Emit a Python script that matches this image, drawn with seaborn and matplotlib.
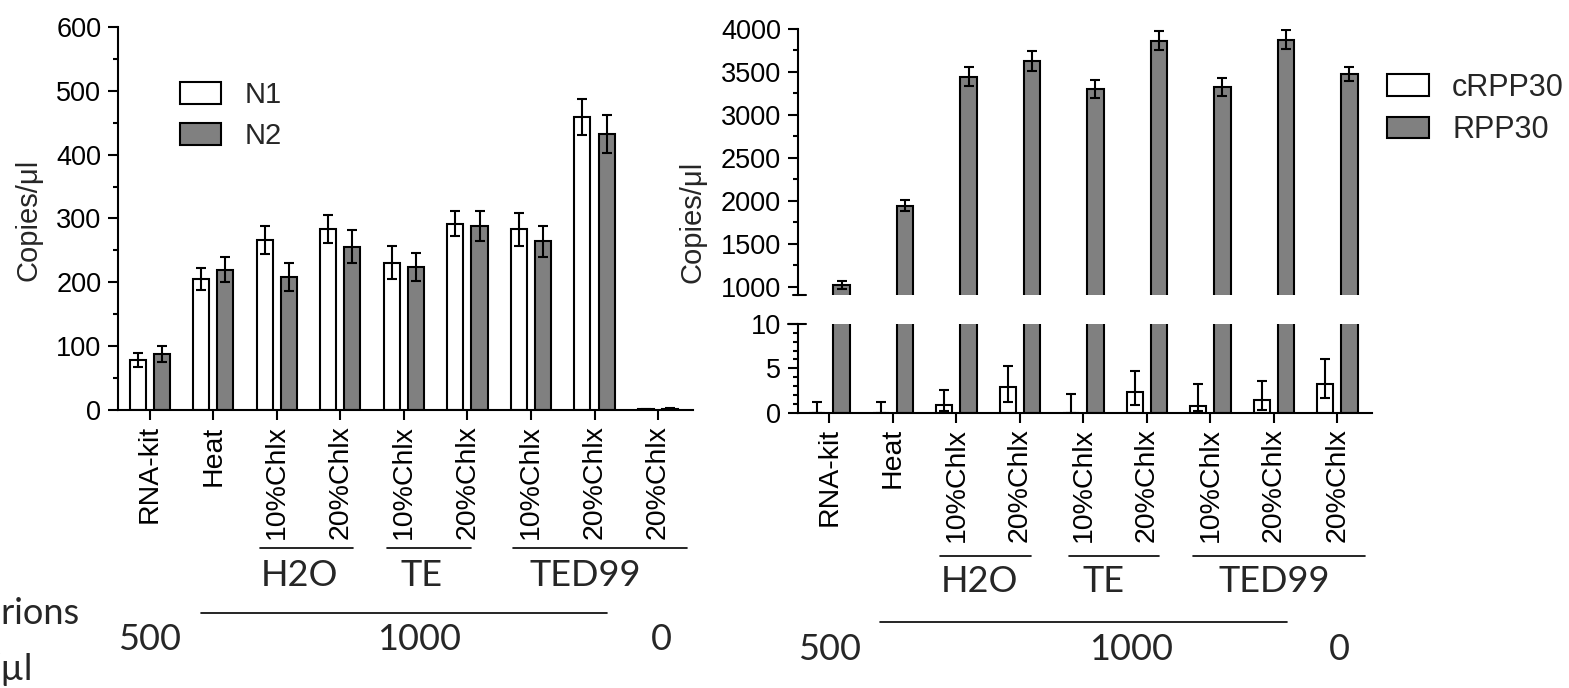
import numpy as np
import pandas as pd
import matplotlib
matplotlib.use("Agg")
import matplotlib.pyplot as plt
import matplotlib.transforms as mtransforms
from matplotlib.patches import Patch
from matplotlib.lines import Line2D
import seaborn as sns

# ---------------- data ----------------
tick_labels = ["RNA-kit", "Heat", "10%Chlx", "20%Chlx", "10%Chlx", "20%Chlx",
               "10%Chlx", "20%Chlx", "20%Chlx"]
positions = list(range(len(tick_labels)))

# left panel (N1 / N2)
n1 = [78, 205, 267, 283, 231, 292, 283, 459, 1]
n1_err = [11, 17, 22, 22, 26, 20, 26, 28, 0.5]
n2 = [88, 220, 208, 256, 224, 288, 264, 432, 2]
n2_err = [13, 20, 22, 26, 22, 24, 24, 30, 0.6]

# right panel (cRPP30 / RPP30)
rpp30 = [1020, 1943, 3445, 3627, 3298, 3864, 3329, 3876, 3480]
rpp30_err = [48, 62, 108, 120, 105, 108, 105, 110, 80]
crpp30 = [0.0, 0.0, 0.86, 2.86, 0.0, 2.37, 0.75, 1.43, 3.27]
crpp30_lo = [0.0, 0.0, 0.7, 1.6, 0.0, 1.5, 0.6, 1.1, 1.65]
crpp30_hi = [1.2, 1.15, 1.75, 2.35, 2.1, 2.3, 2.5, 2.1, 2.8]

groups = ["H2O", "TE", "TED99"]
group_spans = [(2, 3), (4, 5), (6, 8)]
virion_labels = ["500", "1000", "0"]

left_df = pd.DataFrame({
    "pos": positions * 2,
    "val": n1 + n2,
    "target": ["N1"] * 9 + ["N2"] * 9,
})
right_df = pd.DataFrame({
    "pos": positions * 2,
    "val": crpp30 + rpp30,
    "target": ["cRPP30"] * 9 + ["RPP30"] * 9,
})

# ---------------- style ----------------
sns.set_style("ticks")
plt.rcParams["font.family"] = ["Liberation Sans", "DejaVu Sans"]
plt.rcParams["axes.linewidth"] = 1.5
plt.rcParams["xtick.major.width"] = 1.5
plt.rcParams["ytick.major.width"] = 1.5
plt.rcParams["ytick.minor.width"] = 1.5
plt.rcParams["xtick.major.size"] = 7
plt.rcParams["ytick.major.size"] = 7
plt.rcParams["ytick.minor.size"] = 3.6
plt.rcParams["xtick.color"] = "black"
plt.rcParams["ytick.color"] = "black"
plt.rcParams["axes.edgecolor"] = "black"

W, H = 1569, 688
fig = plt.figure(figsize=(W / 100, H / 100), dpi=100)


def fx(px):
    return px / W


def fy(py):
    return 1 - py / H


WHITE, GRAY = "#ffffff", "#808080"
bar_kw = dict(edgecolor="black", linewidth=1.5, width=0.76, gap=0.334,
              errorbar=None, legend=False, dodge=True)
err_kw = dict(fmt="none", ecolor="black", elinewidth=1.5, capsize=3.6,
              capthick=1.5, zorder=4)

TICK_FS = 19.5
XT_FS = 20.5
GROUP_FONT = ["Lato", "DejaVu Sans"]
GROUP_FS = 26


def bar_centers(ax, i):
    return [p.get_x() + p.get_width() / 2 for p in ax.containers[i]]


# ---------------- left panel ----------------
axL = fig.add_axes([fx(118), fy(410), fx(693 - 118), (410 - 27) / H])
sns.barplot(data=left_df, x="pos", y="val", hue="target", order=positions,
            hue_order=["N1", "N2"], palette=[WHITE, GRAY], ax=axL, **bar_kw)
axL.errorbar(bar_centers(axL, 0), n1, yerr=n1_err, **err_kw)
axL.errorbar(bar_centers(axL, 1), n2, yerr=n2_err, **err_kw)
axL.set_ylim(0, 600)
axL.set_xlim(-0.5, 8.55)
axL.set_yticks(np.arange(0, 601, 100))
axL.set_yticks(np.arange(0, 601, 50), minor=True)
axL.set_xticks(positions)
axL.set_xticklabels(tick_labels, rotation=90, fontsize=XT_FS)
axL.tick_params(axis="y", labelsize=TICK_FS, pad=5)
axL.tick_params(axis="x", pad=4)
axL.set_xlabel("")
axL.set_ylabel("")
sns.despine(ax=axL)
axL.legend(handles=[Patch(facecolor=WHITE, edgecolor="black", linewidth=1.5, label="N1"),
                    Patch(facecolor=GRAY, edgecolor="black", linewidth=1.5, label="N2")],
           loc="upper left", bbox_to_anchor=(fx(180), fy(81)),
           bbox_transform=fig.transFigure, frameon=False, fontsize=21,
           handlelength=1.4, handleheight=0.76, handletextpad=0.8,
           labelspacing=0.45, borderpad=0, borderaxespad=0)
fig.text(fx(28), fy(220), "Copies/\u03bcl", rotation=90, fontsize=21,
         ha="center", va="center")

# ---------------- right panel (broken axis) ----------------
axU = fig.add_axes([fx(797.7), fy(295), fx(1371.7 - 797.7), (295 - 29) / H])
axB = fig.add_axes([fx(797.7), fy(412.7), fx(1371.7 - 797.7), (412.7 - 324) / H])
for ax in (axU, axB):
    sns.barplot(data=right_df, x="pos", y="val", hue="target", order=positions,
                hue_order=["cRPP30", "RPP30"], palette=[WHITE, GRAY], ax=ax, **bar_kw)
    ax.set_xlim(-0.5, 8.54)
    ax.set_xlabel("")
    ax.set_ylabel("")
    ax.tick_params(axis="y", labelsize=TICK_FS, pad=5)

axU.errorbar(bar_centers(axU, 1), rpp30, yerr=rpp30_err, **err_kw)
axB.errorbar(bar_centers(axB, 0), crpp30, yerr=[crpp30_lo, crpp30_hi], **err_kw)

axU.set_ylim(903, 4000)
axU.set_yticks(np.arange(1000, 4001, 500))
axU.set_yticks(np.arange(1000, 4001, 250), minor=True)
axU.set_xticks([])
sns.despine(ax=axU, bottom=True)

axB.set_ylim(0, 10)
axB.set_yticks([0, 5, 10])
axB.set_yticks(np.arange(0, 11, 1), minor=True)
axB.set_xticks(positions)
axB.set_xticklabels(tick_labels, rotation=90, fontsize=XT_FS)
axB.tick_params(axis="x", pad=4)
sns.despine(ax=axB)

# break marks
px_per_ax = 1.0 / (1371.7 - 797.7)
axU.plot([-5 * px_per_ax, 8 * px_per_ax], [0, 0], transform=axU.transAxes,
         color="black", lw=1.5, clip_on=False)
axB.plot([-10 * px_per_ax, 8 * px_per_ax], [1, 1], transform=axB.transAxes,
         color="black", lw=1.5, clip_on=False)

axU.legend(handles=[Patch(facecolor=WHITE, edgecolor="black", linewidth=1.5, label="cRPP30"),
                    Patch(facecolor=GRAY, edgecolor="black", linewidth=1.5, label="RPP30")],
           loc="upper left", bbox_to_anchor=(fx(1387), fy(73)),
           bbox_transform=fig.transFigure, frameon=False, fontsize=22,
           handlelength=1.38, handleheight=0.72, handletextpad=0.75,
           labelspacing=0.4, borderpad=0, borderaxespad=0)
fig.text(fx(693), fy(222), "Copies/\u03bcl", rotation=90, fontsize=21,
         ha="center", va="center")


# ---------------- group annotations ----------------
def annotate(ax, line_y, label_y, line2_y, num_y, span_pad, label_x, line2, num_x):
    tr = mtransforms.blended_transform_factory(ax.transData, fig.transFigure)
    for (a, b), (pl, pr), name, lx in zip(group_spans, span_pad, groups, label_x):
        ax.add_artist(Line2D([a - pl, b + pr], [fy(line_y)] * 2, transform=tr,
                             color="black", lw=1.2, clip_on=False))
        fig.text(lx, fy(label_y), name, transform=tr, ha="center", va="center",
                 fontsize=GROUP_FS, family=GROUP_FONT)
    ax.add_artist(Line2D(list(line2), [fy(line2_y)] * 2, transform=tr,
                         color="black", lw=1.2, clip_on=False))
    for txt, x in zip(virion_labels, num_x):
        fig.text(x, fy(num_y), txt, transform=tr, ha="center", va="center",
                 fontsize=GROUP_FS, family=GROUP_FONT)


annotate(axL, 548, 575, 613, 639,
         [(0.26, 0.2), (0.27, 0.05), (0.29, 0.45)],
         [2.36, 4.27, 6.86], (0.81, 7.2), [0, 4.24, 8.05])
annotate(axB, 556, 581, 622, 650,
         [(0.26, 0.18), (0.23, 0.19), (0.27, 0.43)],
         [2.36, 4.32, 7.0], (0.8, 7.2), [0, 4.75, 8.03])

# partially cropped side label, as in the reference
fig.text(fx(80), fy(614), "Virions", ha="right", va="center",
         fontsize=GROUP_FS, family=GROUP_FONT)
fig.text(fx(33), fy(669), "/\u00b5l", ha="right", va="center",
         fontsize=GROUP_FS, family=GROUP_FONT)

fig.save = None
fig.savefig("out.png", dpi=100)
